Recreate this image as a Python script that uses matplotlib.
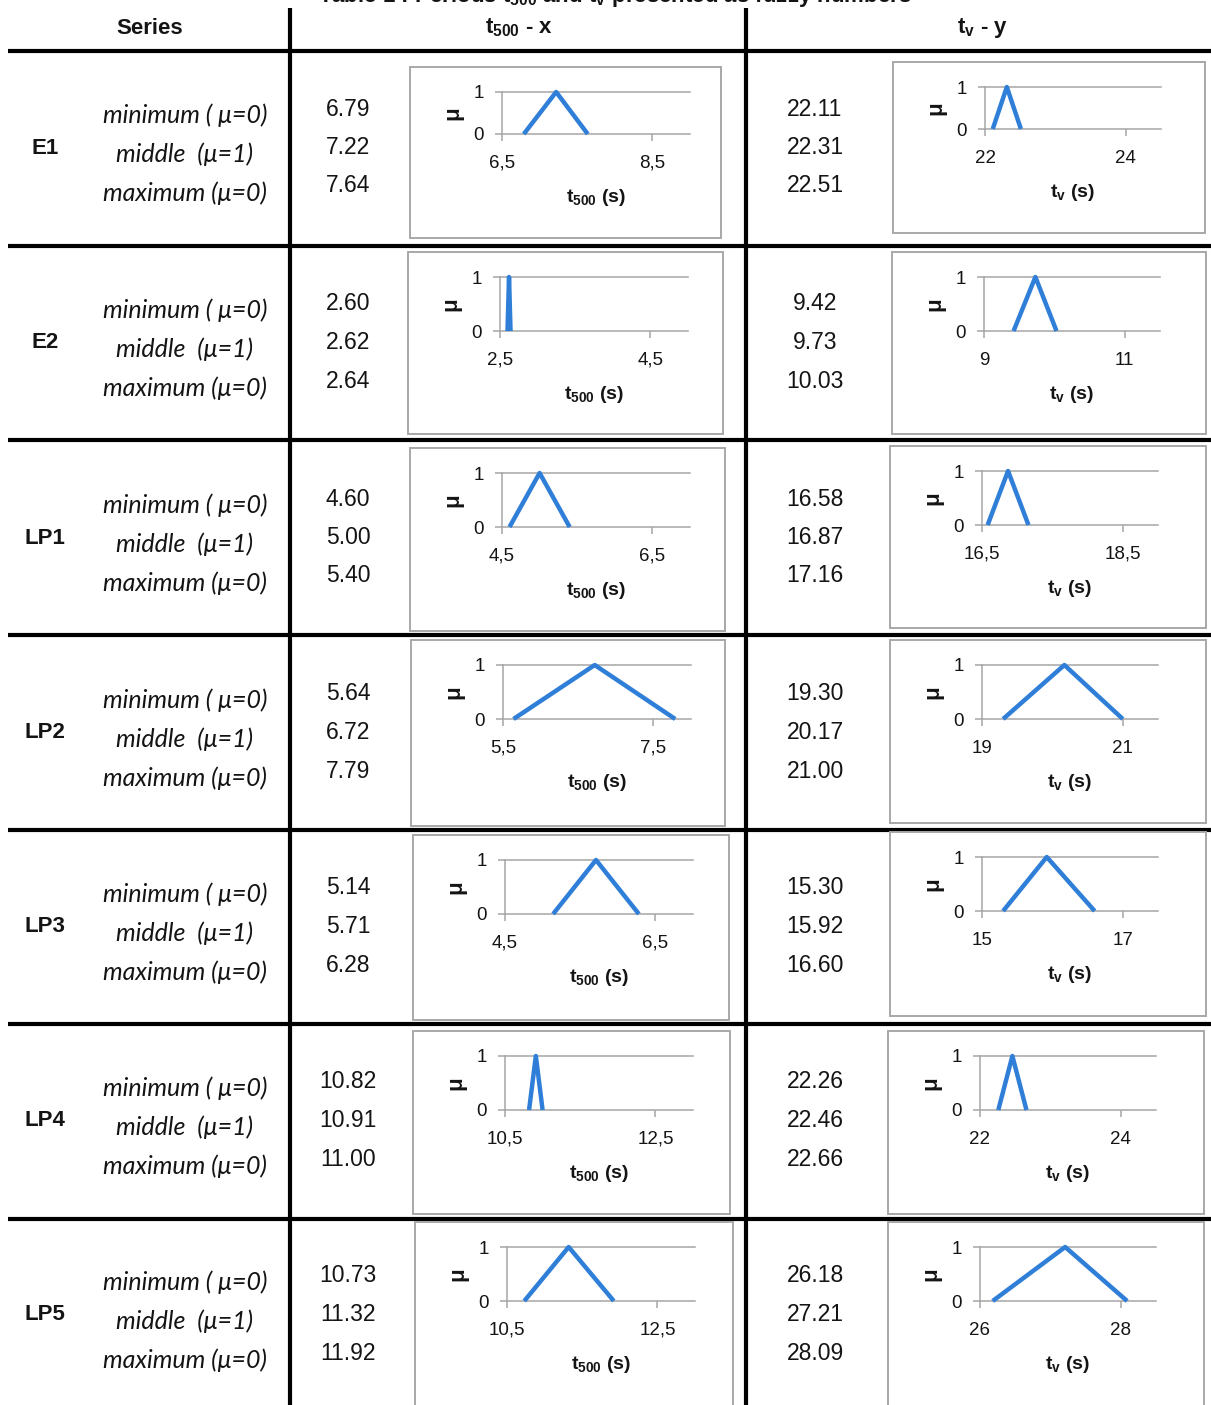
import matplotlib
matplotlib.use("Agg")
import matplotlib.pyplot as plt
from matplotlib.patches import Rectangle

# fonts: no narrow face installed, so Liberation Sans (Arial metrics) at reduced size
plt.rcParams["font.family"] = ["Liberation Sans", "DejaVu Sans"]
plt.rcParams["mathtext.fontset"] = "custom"
plt.rcParams["mathtext.rm"] = "Liberation Sans"
plt.rcParams["mathtext.bf"] = "Liberation Sans:bold"
plt.rcParams["mathtext.it"] = "Liberation Sans:italic"

# ============== data ==============
series = ["E1", "E2", "LP1", "LP2", "LP3", "LP4", "LP5"]
row_labels = ["minimum ( μ=0)", "middle  (μ=1)", "maximum (μ=0)"]

t500_min = [6.79, 2.60, 4.60, 5.64, 5.14, 10.82, 10.73]
t500_mid = [7.22, 2.62, 5.00, 6.72, 5.71, 10.91, 11.32]
t500_max = [7.64, 2.64, 5.40, 7.79, 6.28, 11.00, 11.92]
t500_axis_start = [6.5, 2.5, 4.5, 5.5, 4.5, 10.5, 10.5]

tv_min = [22.11, 9.42, 16.58, 19.30, 15.30, 22.26, 26.18]
tv_mid = [22.31, 9.73, 16.87, 20.17, 15.92, 22.46, 27.21]
tv_max = [22.51, 10.03, 17.16, 21.00, 16.60, 22.66, 28.09]
tv_axis_start = [22, 9, 16.5, 19, 15, 22, 26]

# ============== layout (pixels) ==============
W, H = 1211, 1405
row_lines = [51, 246, 440, 635, 830, 1024, 1219]
row_centers = [148, 343, 538, 733, 927, 1121, 1315]
t500_boxes = [(410, 67, 721, 238), (408, 252, 723, 434), (410, 448, 725, 631),
              (411, 640, 725, 826), (413, 835, 729, 1020), (413, 1031, 730, 1214),
              (415, 1222, 733, 1425)]
tv_boxes = [(893, 62, 1205, 233), (892, 252, 1206, 434), (890, 446, 1206, 628),
            (890, 640, 1206, 823), (890, 832, 1206, 1016), (888, 1031, 1204, 1214),
            (888, 1222, 1204, 1425)]

BLUE = "#2F7ED8"
GRID = "#A6A6A6"
BOX = "#A8A8A8"
INK = "#141414"


def fmt_tick(v):
    if float(v).is_integer():
        return "%d" % v
    return ("%.1f" % v).replace(".", ",")


def mini_chart(fig, box, plot_w, plot_h, lo, vals, xlabel):
    bx0, by0, bx1, by1 = box
    left = bx0 + 92
    top = by0 + 25
    ax = fig.add_axes([left / W, (H - top - plot_h) / H, plot_w / W, plot_h / H])
    ax.patch.set_alpha(0)
    ax.plot(vals, [0, 1, 0], color=BLUE, lw=3.2, clip_on=False,
            solid_capstyle="butt", zorder=5)
    ax.set_xlim(lo, lo + 2.5)
    ax.set_ylim(0, 1)
    ax.set_xticks([lo, lo + 2])
    ax.set_xticklabels([fmt_tick(lo), fmt_tick(lo + 2)])
    ax.set_yticks([0, 1])
    ax.set_yticklabels(["0", "1"])
    for s in ["left", "top", "bottom"]:
        ax.spines[s].set_color(GRID)
        ax.spines[s].set_linewidth(1.1)
    ax.spines["right"].set_visible(False)
    ax.tick_params(axis="x", length=5, width=1.1, color=GRID, labelsize=13.5,
                   pad=10, labelcolor=INK)
    ax.tick_params(axis="y", length=5, width=1.1, color=GRID, labelsize=13.5,
                   pad=8, labelcolor=INK)
    ax.set_ylabel("μ", fontsize=16, fontweight="bold", labelpad=7, color=INK)
    ax.set_xlabel(xlabel, fontsize=14, fontweight="bold", labelpad=11, color=INK)
    return ax


fig = plt.figure(figsize=(W / 100, H / 100), dpi=100)
base = fig.add_axes([0, 0, 1, 1])
base.set_xlim(0, W)
base.set_ylim(H, 0)
base.axis("off")

# title (cut off at the top edge in the original)
base.text(615, 2, r"Table 1 : Periods $\mathbf{t_{500}}$ and $\mathbf{t_v}$ presented as fuzzy numbers",
          ha="center", va="baseline", fontsize=16, fontweight="bold", color=INK)

# table rules
for y in row_lines:
    base.plot([8, W], [y, y], color="black", lw=3, solid_capstyle="butt")
for x in [290, 746]:
    base.plot([x, x], [8, H], color="black", lw=3, solid_capstyle="butt")

# header
base.text(150, 28, "Series", ha="center", va="center", fontsize=16, fontweight="bold", color=INK)
base.text(519, 28, r"$\mathbf{t_{500}}$ - x", ha="center", va="center", fontsize=16,
          fontweight="bold", color=INK)
base.text(982, 28, r"$\mathbf{t_v}$ - y", ha="center", va="center", fontsize=16,
          fontweight="bold", color=INK)

for i, name in enumerate(series):
    cy = row_centers[i]
    base.text(45, cy, name, ha="center", va="center", fontsize=16, fontweight="bold", color=INK)
    for k, lab in enumerate(row_labels):
        base.text(185, cy - 33 + 39 * k, lab, ha="center", va="center", fontsize=18,
                  style="italic", family=["Lato", "DejaVu Sans"], color=INK)
    for k, v in enumerate([t500_min[i], t500_mid[i], t500_max[i]]):
        base.text(348, cy - 39 + 38.5 * k, "%.2f" % v, ha="center", va="center",
                  fontsize=16.5, color=INK)
    for k, v in enumerate([tv_min[i], tv_mid[i], tv_max[i]]):
        base.text(815, cy - 39 + 38.5 * k, "%.2f" % v, ha="center", va="center",
                  fontsize=16.5, color=INK)

    plot_h = 42 if i == 0 else 54
    for box in [t500_boxes[i], tv_boxes[i]]:
        bx0, by0, bx1, by1 = box
        base.add_patch(Rectangle((bx0, by0), bx1 - bx0, by1 - by0, facecolor="white",
                                 edgecolor=BOX, lw=1.4, zorder=3))
    mini_chart(fig, t500_boxes[i], 188, plot_h, t500_axis_start[i],
               [t500_min[i], t500_mid[i], t500_max[i]], r"$\mathbf{t_{500}}$ (s)")
    mini_chart(fig, tv_boxes[i], 176, plot_h, tv_axis_start[i],
               [tv_min[i], tv_mid[i], tv_max[i]], r"$\mathbf{t_v}$ (s)")

fig.savefig("out.png", dpi=100)
